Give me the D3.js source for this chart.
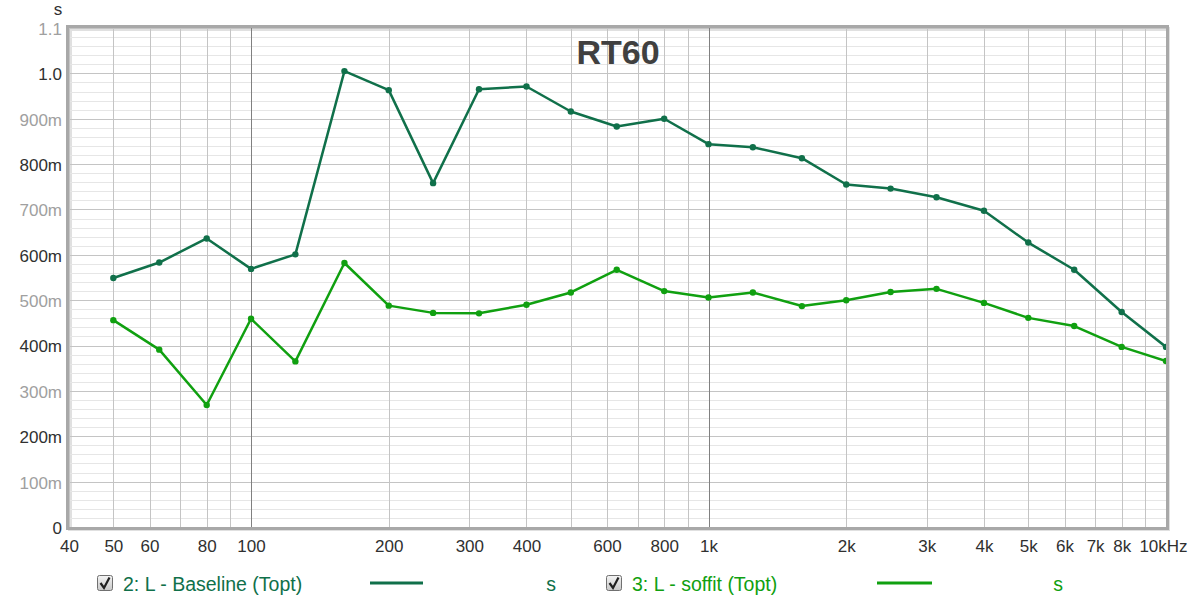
<!doctype html>
<html>
  <head>
    <meta charset="utf-8">
    <title>RT60</title>
    <script src="https://d3js.org/d3.v7.min.js"></script>
    <style>
      body { margin: 0; background: #fff; }
      text { font-family: "Liberation Sans", Arial, sans-serif; }
    </style>
  </head>
  <body>
    <script>
      // 1/3 octave band centres
      const freqs = [50, 63, 80, 100, 125, 160, 200, 250, 315, 400, 500, 630,
                     800, 1000, 1250, 1600, 2000, 2500, 3150, 4000, 5000, 6300, 8000, 10000];

      // RT60 (s)
      const baseline = [0.549, 0.583, 0.636, 0.569, 0.601, 1.005, 0.963, 0.758, 0.965, 0.971, 0.916, 0.883,
                        0.900, 0.844, 0.837, 0.813, 0.755, 0.746, 0.727, 0.697, 0.627, 0.567, 0.474, 0.397];
      const soffit = [0.456, 0.391, 0.269, 0.459, 0.365, 0.582, 0.488, 0.472, 0.471, 0.490, 0.517, 0.567,
                      0.520, 0.506, 0.517, 0.487, 0.500, 0.518, 0.525, 0.494, 0.461, 0.443, 0.397, 0.366];

      const seriesNames = ['2: L - Baseline (Topt)', '3: L - soffit (Topt)'];
      const seriesColors = ['#10704a', '#10a010'];

      const yTicks = [0, 0.1, 0.2, 0.3, 0.4, 0.5, 0.6, 0.7, 0.8, 0.9, 1.0, 1.1];
      const xTicks = [40, 50, 60, 80, 100, 200, 300, 400, 600, 800, 1000,
                      2000, 3000, 4000, 5000, 6000, 7000, 8000, 10000];

      const svgWidth = 1200;
      const svgHeight = 605;
      const plotLeft = 69, plotRight = 1166, plotTop = 28, plotBottom = 527;

      const svg = d3.select('body').append('svg')
          .attr('width', svgWidth)
          .attr('height', svgHeight);

      const x = d3.scaleLog().domain([40, 10000]).range([plotLeft, plotRight]);
      const y = d3.scaleLinear().domain([0, 1.1]).range([plotBottom, plotTop]);

      const defs = svg.append('defs');
      defs.append('clipPath').attr('id', 'plotClip')
        .append('rect')
          .attr('x', plotLeft).attr('y', plotTop)
          .attr('width', plotRight - plotLeft).attr('height', plotBottom - plotTop);

      // shadow behind frame
      svg.append('rect')
          .attr('x', plotLeft + 1).attr('y', plotTop + 1)
          .attr('width', plotRight - plotLeft + 1).attr('height', plotBottom - plotTop + 1)
          .attr('fill', 'none')
          .attr('stroke', '#e0e0e0')
          .attr('stroke-width', 4);

      // grid
      const grid = svg.append('g');
      const minorY = d3.range(0, 56).map(i => i * 0.02);
      grid.selectAll('line.ym')
        .data(minorY)
        .join('line')
          .attr('x1', plotLeft).attr('x2', plotRight)
          .attr('y1', d => Math.round(y(d)) + 0.5)
          .attr('y2', d => Math.round(y(d)) + 0.5)
          .attr('stroke', d => Math.abs(d * 10 - Math.round(d * 10)) < 1e-6 ? '#c4c4c4' : '#e6e6e6')
          .attr('stroke-width', 1);

      const xGrid = [];
      [10, 100, 1000].forEach(dec => {
        for (let k = 1; k < 10; k++) {
          const f = dec * k;
          if (f >= 40 && f < 10000) xGrid.push(f);
        }
      });
      grid.selectAll('line.xg')
        .data(xGrid)
        .join('line')
          .attr('x1', d => Math.round(x(d)) + 0.5)
          .attr('x2', d => Math.round(x(d)) + 0.5)
          .attr('y1', plotTop).attr('y2', plotBottom)
          .attr('stroke', d => (d === 100 || d === 1000) ? '#808080' : '#c4c4c4')
          .attr('stroke-width', 1);

      // frame
      svg.append('rect')
          .attr('x', plotLeft - 1.5).attr('y', plotTop - 1.5)
          .attr('width', plotRight - plotLeft + 3).attr('height', plotBottom - plotTop + 3)
          .attr('fill', 'none')
          .attr('stroke', '#a8a8a8')
          .attr('stroke-width', 3);

      // title
      svg.append('text')
          .attr('x', 618).attr('y', 64)
          .attr('text-anchor', 'middle')
          .attr('font-size', 34)
          .attr('font-weight', 'bold')
          .attr('fill', '#404040')
          .text('RT60');

      // axes labels
      const yAxis = d3.axisLeft(y)
          .tickValues(yTicks)
          .tickSize(0)
          .tickPadding(0)
          .tickFormat(d => d === 0 ? '0' : d >= 1 ? d.toFixed(1) : Math.round(d * 1000) + 'm');
      const gy = svg.append('g')
          .attr('transform', `translate(${plotLeft - 7},1)`)
          .call(yAxis);
      gy.select('.domain').remove();
      gy.selectAll('text')
          .attr('font-size', 17)
          .attr('font-family', '"Liberation Sans", Arial, sans-serif')
          .attr('fill', d => Math.round(d * 10) % 2 === 0 ? '#303030' : '#a0a0a0');

      svg.append('text')
          .attr('x', 58).attr('y', 15)
          .attr('text-anchor', 'middle')
          .attr('font-size', 17)
          .attr('fill', '#303030')
          .text('s');

      const xAxis = d3.axisBottom(x)
          .tickValues(xTicks)
          .tickSize(0)
          .tickPadding(0)
          .tickFormat(d => d === 10000 ? '10kHz' : d >= 1000 ? (d / 1000) + 'k' : String(d));
      const gx = svg.append('g')
          .attr('transform', `translate(0,${plotBottom + 13})`)
          .call(xAxis);
      gx.select('.domain').remove();
      gx.selectAll('text')
          .attr('font-size', 17)
          .attr('font-family', '"Liberation Sans", Arial, sans-serif')
          .attr('fill', '#303030')
          .attr('dx', d => d === 10000 ? -3 : 0);

      // series
      const plot = svg.append('g').attr('clip-path', 'url(#plotClip)');
      const line = d3.line()
          .x(d => x(d[0]))
          .y(d => y(d[1]));

      [baseline, soffit].forEach((vals, i) => {
        const pts = freqs.map((f, j) => [f, vals[j]]);
        plot.append('path')
            .datum(pts)
            .attr('d', line)
            .attr('fill', 'none')
            .attr('stroke', seriesColors[i])
            .attr('stroke-width', 2.5)
            .attr('stroke-linejoin', 'round');
        plot.selectAll(null)
          .data(pts)
          .join('circle')
            .attr('cx', d => x(d[0]))
            .attr('cy', d => y(d[1]))
            .attr('r', 3.2)
            .attr('fill', seriesColors[i]);
      });

      // legend
      const legendPos = [
        { box: 97, text: 123, l1: 370, l2: 423, unit: 551 },
        { box: 606, text: 632, l1: 877, l2: 932, unit: 1058 }
      ];
      const boxGrad = defs.append('linearGradient')
          .attr('id', 'boxGrad')
          .attr('x1', '0%').attr('y1', '0%').attr('x2', '0%').attr('y2', '100%');
      boxGrad.append('stop').attr('offset', '0%').attr('stop-color', '#f4f4f4');
      boxGrad.append('stop').attr('offset', '100%').attr('stop-color', '#c8c8c8');

      legendPos.forEach((p, i) => {
        const g = svg.append('g');
        g.append('rect')
            .attr('x', p.box + 0.5).attr('y', 575.5)
            .attr('width', 15).attr('height', 15)
            .attr('rx', 2)
            .attr('fill', 'url(#boxGrad)')
            .attr('stroke', '#707070');
        g.append('path')
            .attr('d', `M${p.box + 3.5},${583} L${p.box + 7},${588} L${p.box + 12.5},${577.5}`)
            .attr('fill', 'none')
            .attr('stroke', '#202020')
            .attr('stroke-width', 2.2);
        g.append('text')
            .attr('x', p.text).attr('y', 591)
            .attr('font-size', 19.5)
            .attr('fill', seriesColors[i])
            .text(seriesNames[i]);
        g.append('line')
            .attr('x1', p.l1).attr('x2', p.l2)
            .attr('y1', 583).attr('y2', 583)
            .attr('stroke', seriesColors[i])
            .attr('stroke-width', 3);
        g.append('text')
            .attr('x', p.unit).attr('y', 591)
            .attr('text-anchor', 'middle')
            .attr('font-size', 19.5)
            .attr('fill', seriesColors[i])
            .text('s');
      });
    </script>
  </body>
</html>
